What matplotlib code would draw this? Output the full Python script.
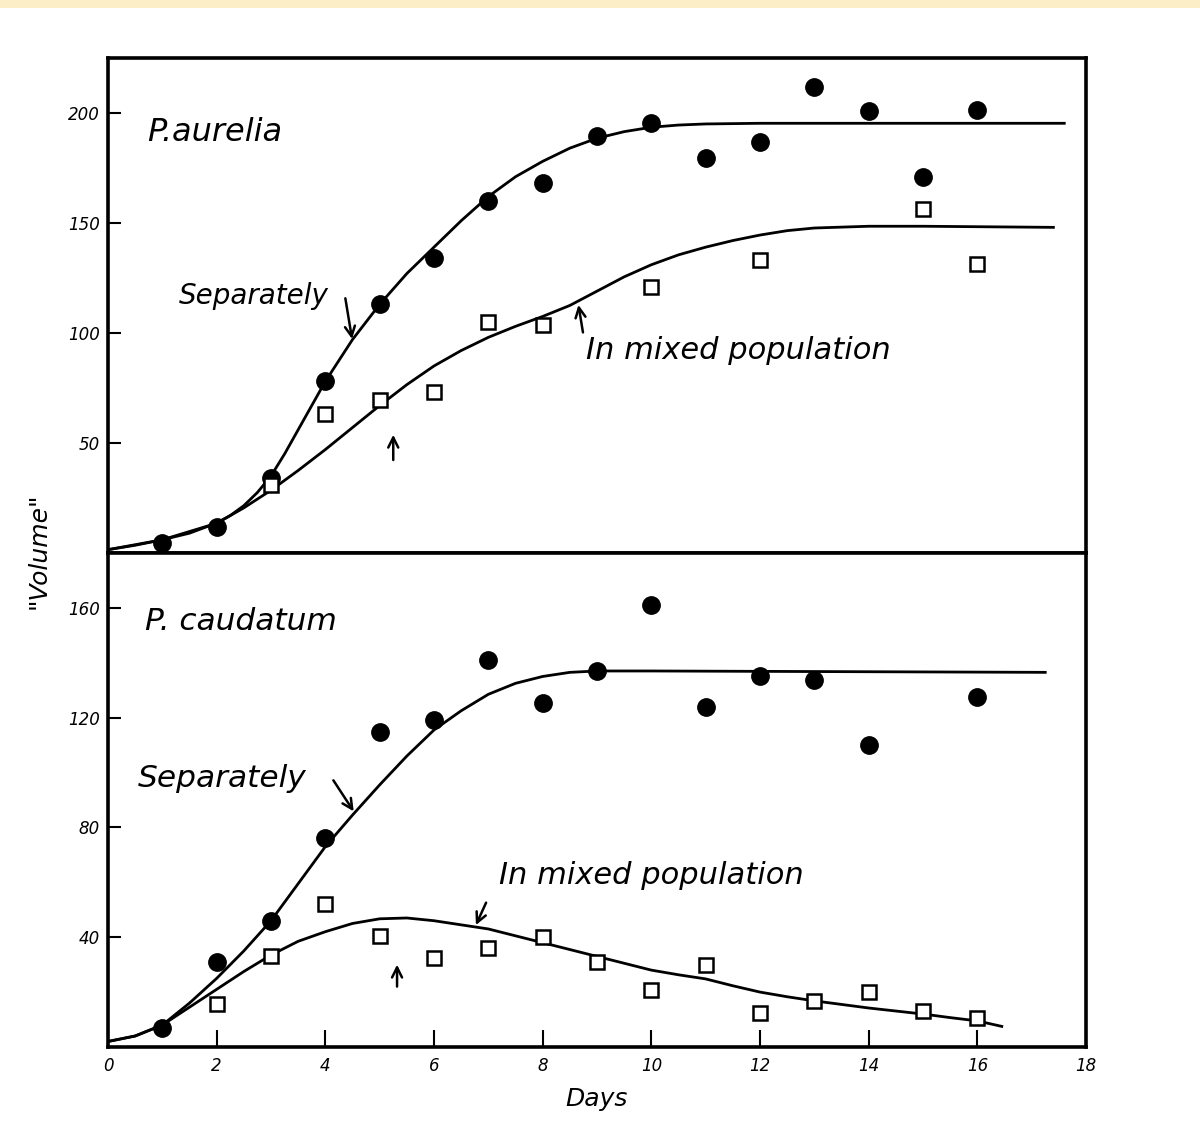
import matplotlib
matplotlib.use("Agg")
import matplotlib.pyplot as plt
from matplotlib.patches import Rectangle

# --- data ---
# P. aurelia (top panel)
aur_sep_days = [1, 2, 3, 4, 5, 6, 7, 8, 9, 10, 11, 12, 13, 14, 15, 16]
aur_sep_vals = [4.5, 12, 34, 78, 113, 134, 160, 168, 189.5, 195.5, 179.5, 187, 212, 201, 171, 201.5]
aur_mix_days = [3, 4, 5, 6, 7, 8, 10, 12, 15, 16]
aur_mix_vals = [31, 63, 69.5, 73, 105, 103.5, 121, 133, 156.5, 131.5]

aur_sep_curve_x = [0, 0.5, 1, 1.5, 2, 2.25, 2.5, 2.75, 3, 3.25, 3.5, 3.75, 4, 4.5, 5, 5.5, 6, 6.5,
                   7, 7.5, 8, 8.5, 9, 9.5, 10, 10.5, 11, 12, 17.6]
aur_sep_curve_y = [1.5, 3.5, 6, 9, 13.6, 17, 21.5, 27.5, 35, 45, 56, 67, 78, 97, 113, 127, 139, 151,
                   162, 171, 178, 184, 188.5, 191.5, 193.5, 194.5, 195, 195.3, 195.3]
aur_mix_curve_x = [0, 1, 2, 2.5, 3, 3.5, 4, 4.5, 5, 5.5, 6, 6.5, 7, 7.5, 8, 8.5, 9, 9.5, 10, 10.5,
                   11, 11.5, 12, 12.5, 13, 14, 15, 17.4]
aur_mix_curve_y = [1.5, 6, 13.5, 20.5, 28.5, 37.5, 47, 57, 67, 76.5, 85, 92, 98, 103, 107.5, 112.5,
                   119, 125.5, 131, 135.5, 139, 142, 144.5, 146.5, 147.7, 148.5, 148.5, 148]

# P. caudatum (bottom panel)
cau_sep_days = [1, 2, 3, 4, 5, 6, 7, 8, 9, 10, 11, 12, 13, 14, 16]
cau_sep_vals = [7, 31, 46, 76, 114.6, 119, 141, 125.5, 137, 161, 124, 135, 133.6, 110, 127.7]
cau_mix_days = [2, 3, 4, 5, 6, 7, 8, 9, 10, 11, 12, 13, 14, 15, 16]
cau_mix_vals = [15.7, 33, 52, 40.5, 32.5, 36, 40, 31, 20.8, 30, 12.4, 16.8, 20, 13, 10.6]

cau_sep_curve_x = [0, 0.5, 1, 1.5, 2, 2.5, 3, 3.5, 4, 4.5, 5, 5.5, 6, 6.5, 7, 7.5, 8, 8.5, 9, 10, 17.25]
cau_sep_curve_y = [2, 4, 8, 16, 25, 35, 46, 59.5, 73, 84.5, 95.5, 106, 115.5, 122.5, 128.5, 132.5,
                   135, 136.5, 137, 137, 136.5]
cau_mix_curve_x = [0, 0.5, 1, 1.5, 2, 2.5, 3, 3.5, 4, 4.5, 5, 5.5, 6, 6.5, 7, 7.5, 8, 8.5, 9, 9.5,
                   10, 10.5, 11, 11.5, 12, 12.5, 13, 13.5, 14, 14.5, 15, 15.5, 16, 16.45]
cau_mix_curve_y = [2, 4, 8, 14.5, 21, 27.5, 33.5, 38.5, 42, 45, 46.7, 47, 46, 44.5, 43, 40.5, 38,
                   35.5, 33, 30.5, 28, 26.3, 24.8, 22.3, 20, 18.3, 16.8, 15.5, 14.2, 13.1, 12,
                   10.7, 9.5, 7.5]

x_ticks = [0, 2, 4, 6, 8, 10, 12, 14, 16, 18]
aur_yticks = [50, 100, 150, 200]
cau_yticks = [40, 80, 120, 160]

fig = plt.figure(figsize=(12, 11.23), dpi=100)
fig.patch.set_facecolor("white")
fig.add_artist(Rectangle((0, 1 - 8 / 1123), 1, 8 / 1123, transform=fig.transFigure,
                         facecolor="#fcefc8", edgecolor="none"))

ax1 = fig.add_axes([0.09, 0.5076, 0.815, 0.4408])
ax2 = fig.add_axes([0.09, 0.0677, 0.815, 0.4399])

fs_tick = 12


def style_axis(ax, ymax, yticks):
    ax.set_xlim(0, 18)
    ax.set_ylim(0, ymax)
    for s in ax.spines.values():
        s.set_linewidth(2.6)
    ax.set_yticks(yticks)
    ax.set_yticklabels([str(t) for t in yticks], fontstyle="italic", fontsize=fs_tick)
    ax.tick_params(axis="y", direction="in", length=9, width=1.5, pad=6)


def draw_panel(ax, sx, sy, mx, my, csx, csy, cmx, cmy):
    ax.plot(csx, csy, color="black", lw=2.0, zorder=2, solid_joinstyle="round")
    ax.plot(cmx, cmy, color="black", lw=2.0, zorder=2, solid_joinstyle="round")
    ax.plot(sx, sy, "o", color="black", markersize=12.5, zorder=3)
    ax.plot(mx, my, "s", markerfacecolor="white", markeredgecolor="black",
            markeredgewidth=1.8, markersize=9.5, linestyle="none", zorder=4)


arrow = dict(arrowstyle="->", lw=1.8, color="black", mutation_scale=18)

# top panel
draw_panel(ax1, aur_sep_days, aur_sep_vals, aur_mix_days, aur_mix_vals,
           aur_sep_curve_x, aur_sep_curve_y, aur_mix_curve_x, aur_mix_curve_y)
style_axis(ax1, 225, aur_yticks)
ax1.set_xticks([])
ax1.text(0.72, 191, "P.aurelia", fontsize=23, fontstyle="italic", va="center")
ax1.text(1.3, 117, "Separately", fontsize=20, fontstyle="italic", va="center")
ax1.annotate("", xy=(4.5, 96), xytext=(4.36, 117), arrowprops=arrow)
ax1.text(8.8, 92, "In mixed population", fontsize=22, fontstyle="italic", va="center")
ax1.annotate("", xy=(8.65, 114), xytext=(8.75, 99), arrowprops=arrow)
ax1.annotate("", xy=(5.25, 55), xytext=(5.25, 41), arrowprops=arrow)

# bottom panel
draw_panel(ax2, cau_sep_days, cau_sep_vals, cau_mix_days, cau_mix_vals,
           cau_sep_curve_x, cau_sep_curve_y, cau_mix_curve_x, cau_mix_curve_y)
style_axis(ax2, 180, cau_yticks)
ax2.set_xticks(x_ticks)
ax2.set_xticklabels([str(t) for t in x_ticks], fontstyle="italic", fontsize=fs_tick)
ax2.tick_params(axis="x", direction="in", length=12, width=1.5, pad=7)
ax2.text(0.68, 155, "P. caudatum", fontsize=22.5, fontstyle="italic", va="center")
ax2.text(0.55, 98, "Separately", fontsize=22.5, fontstyle="italic", va="center")
ax2.annotate("", xy=(4.55, 85), xytext=(4.12, 98), arrowprops=arrow)
ax2.text(7.2, 62.5, "In mixed population", fontsize=22, fontstyle="italic", va="center")
ax2.annotate("", xy=(6.75, 43.5), xytext=(6.98, 53.5), arrowprops=arrow)
ax2.annotate("", xy=(5.32, 31), xytext=(5.32, 21), arrowprops=arrow)

fig.text(0.4975, 0.021, "Days", fontsize=18, fontstyle="italic", ha="center", va="center")
fig.text(0.032, 0.51, '"Volume"', fontsize=18, fontstyle="italic", rotation=90,
         ha="center", va="center")

fig.savefig("out.png", dpi=100)
